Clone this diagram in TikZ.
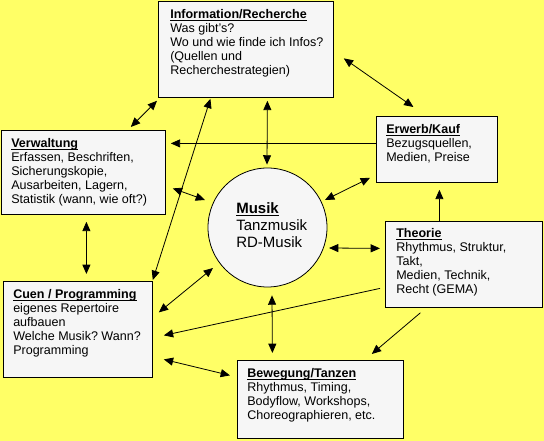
\documentclass[tikz,border=0pt]{standalone}
\usepackage{fontspec}
\setmainfont{Liberation Sans}
\usetikzlibrary{arrows.meta}
\definecolor{bgyellow}{RGB}{255,255,102}
\definecolor{boxfill}{RGB}{246,246,246}
\tikzset{
  box/.style={draw=black, line width=0.6pt, fill=boxfill, inner sep=0pt, anchor=north west},
  boxtext/.style={anchor=north west, inner sep=0pt, align=left, font=\fontsize{9.4}{10.6}\selectfont},
  conn/.style={line width=0.6pt, -{Triangle[length=7pt,width=6pt]}},
  dbl/.style={line width=0.6pt, {Triangle[length=7pt,width=6pt]}-{Triangle[length=7pt,width=6pt]}},
}
\newcommand{\hd}[1]{\vphantom{\textbf{#1}}\underline{\smash{\textbf{#1}}}}
\frenchspacing
\begin{document}
\begin{tikzpicture}[x=0.75pt,y=-0.75pt]
\fill[bgyellow] (0,0) rectangle (544,441);
\useasboundingbox (0,0) rectangle (544,441);

% boxes
\node[box, minimum width=131.25pt, minimum height=72pt] (info) at (158,1) {};
\node[box, minimum width=123pt, minimum height=63pt] (verw) at (1,130) {};
\node[box, minimum width=90.75pt, minimum height=49.5pt] (erwerb) at (376,116) {};
\node[box, minimum width=117.75pt, minimum height=64.5pt] (theorie) at (385,221) {};
\node[box, minimum width=111.75pt, minimum height=72pt] (cuen) at (3,281) {};
\node[box, minimum width=124.5pt, minimum height=58.5pt] (beweg) at (237,360) {};
\node[draw=black, line width=0.6pt, fill=boxfill, circle, inner sep=0pt, minimum size=89.25pt] (musik) at (267.5,227.5) {};

% texts
\node[boxtext] (infot) at ([shift={(12,8)}]info.north west)
  {\hd{Information/Recherche}\\Was gibt’s?\\Wo und wie finde ich Infos?\\(Quellen und\\Recherchestrategien)};
\node[boxtext] (verwt) at ([shift={(10,8)}]verw.north west)
  {\hd{Verwaltung}\\Erfassen, Beschriften,\\Sicherungskopie,\\Ausarbeiten, Lagern,\\Statistik (wann, wie oft?)};
\node[boxtext] (erwerbt) at ([shift={(10,8)}]erwerb.north west)
  {\hd{Erwerb/Kauf}\\Bezugsquellen,\\Medien, Preise};
\node[boxtext] (theoriet) at ([shift={(11,7)}]theorie.north west)
  {\hd{Theorie}\\Rhythmus, Struktur,\\Takt,\\Medien, Technik,\\Recht (GEMA)};
\node[boxtext] (cuent) at ([shift={(10,8)}]cuen.north west)
  {\hd{Cuen / Programming}\\eigenes Repertoire\\aufbauen\\Welche Musik? Wann?\\Programming};
\node[boxtext] (bewegt) at ([shift={(10,8)}]beweg.north west)
  {\hd{Bewegung/Tanzen}\\Rhythmus, Timing,\\Bodyflow, Workshops,\\Choreographieren, etc.};
\node[anchor=north west, inner sep=0pt, align=left, font=\fontsize{11.25}{13}\selectfont] (musikt) at (236,202)
  {\hd{Musik}\\Tanzmusik\\RD-Musik};

% connectors
\draw[dbl] ([shift={(10,9)}]info.east) -- ([shift={(-23.5,-9)}]erwerb.north);
\draw[dbl] ([shift={(-1,3)}]info.south west) -- ([shift={(-35,-3)}]verw.north east);
\draw[dbl] ([shift={(21.5,3)}]info.south) -- ([shift={(-0.5,-3)}]musik.north);
\draw[dbl] ([shift={(-35.5,1)}]info.south) -- ([shift={(0,-1)}]cuen.north east);
\draw[conn] ([shift={(0,-6)}]erwerb.west) -- ([shift={(5,-29)}]verw.east);
\draw[dbl] ([shift={(7,16)}]verw.east) -- ([shift={(-62.5,-27.5)}]musik.center);
\draw[dbl] ([shift={(57.5,-27.5)}]musik.center) -- ([shift={(-6,-5)}]erwerb.south west);
\draw[conn] ([shift={(-24.5,0)}]theorie.north) -- ([shift={(2.5,7)}]erwerb.south);
\draw[dbl] ([shift={(61.5,20.5)}]musik.center) -- ([shift={(-5,-16)}]theorie.west);
\draw[dbl] ([shift={(3,7)}]verw.south) -- ([shift={(8.5,-7)}]cuen.north);
\draw[dbl] ([shift={(6,-17)}]cuen.east) -- ([shift={(-54.5,40.5)}]musik.center);
\draw[conn] ([shift={(-5,24)}]theorie.west) -- ([shift={(11,6)}]cuen.east);
\draw[dbl] ([shift={(4.5,8)}]musik.south) -- ([shift={(-48,-7)}]beweg.north);
\draw[dbl] ([shift={(11,30)}]cuen.east) -- ([shift={(-7,-24)}]beweg.west);
\draw[conn] ([shift={(-43.5,5)}]theorie.south) -- ([shift={(-32,-6)}]beweg.north east);
\end{tikzpicture}
\end{document}
